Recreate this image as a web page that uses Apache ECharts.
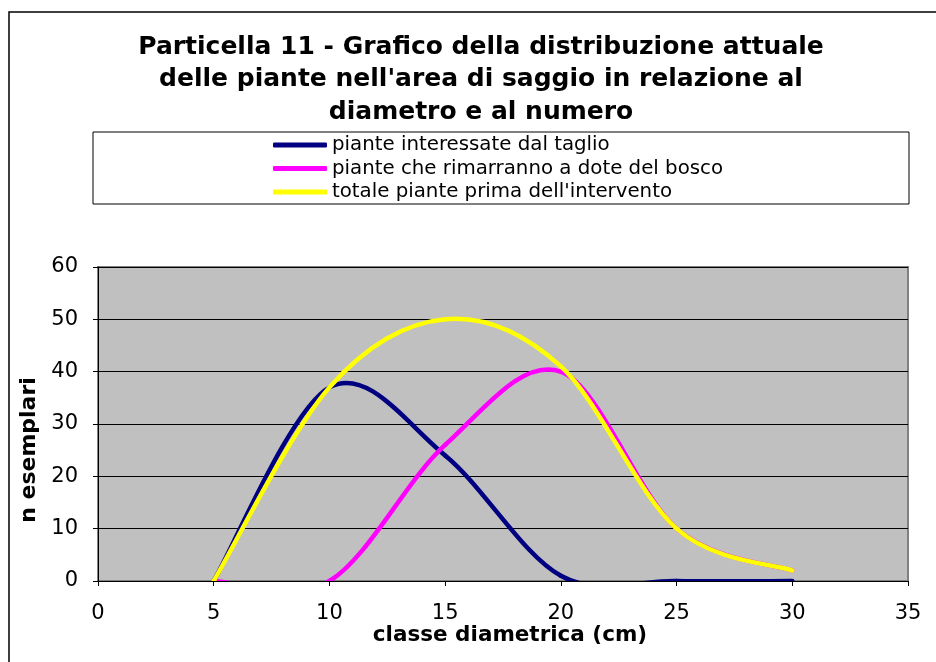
<!DOCTYPE html>
<html><head><meta charset="utf-8">
<script src="https://cdn.jsdelivr.net/npm/echarts@6/dist/echarts.min.js"></script>
<style>html,body{margin:0;padding:0;background:#fff}#c{width:936px;height:662px}</style>
</head><body><div id="c"></div>
<script>
const diameters = [5, 10, 15, 20, 25, 30];
const tagliate = [0, 37, 24, 1, 0, 0];
const rimarranno = [0, 0, 26, 40, 10, 2];
const totale = [0, 37, 50, 41, 10, 2];
const seriesNames = ['piante interessate dal taglio', 'piante che rimarranno a dote del bosco', 'totale piante prima dell\'intervento'];
const colors = ['#000080', '#FF00FF', '#FFFF00'];
const titleText = 'Particella 11 - Grafico della distribuzione attuale\ndelle piante nell\'area di saggio in relazione al\ndiametro e al numero';

const F = '"DejaVu Sans", Verdana, sans-serif';

// Excel-style smoothed line: each data item draws the Bezier segment to the next point,
// with control points derived from neighbouring data points mapped through api.coord.
function curveSeries(name, vals, color) {
  const n = diameters.length;
  return {
    name: name, type: 'custom', clip: true,
    data: diameters.map((d, i) => [d, vals[i]]),
    encode: { x: 0, y: 1 },
    itemStyle: { color: color },
    renderItem: function (params, api) {
      const i = params.dataIndex;
      if (i >= n - 1) return null;
      const P = (k) => api.coord([diameters[k], vals[k]]);
      const p0 = P(Math.max(i - 1, 0)), p1 = P(i), p2 = P(i + 1), p3 = P(Math.min(i + 2, n - 1));
      return {
        type: 'bezierCurve',
        shape: {
          x1: p1[0], y1: p1[1], x2: p2[0], y2: p2[1],
          cpx1: p1[0] + (p2[0] - p0[0]) / 6, cpy1: p1[1] + (p2[1] - p0[1]) / 6,
          cpx2: p2[0] - (p3[0] - p1[0]) / 6, cpy2: p2[1] - (p3[1] - p1[1]) / 6
        },
        style: { stroke: color, lineWidth: 4.5, fill: null, lineCap: 'round' }
      };
    }
  };
}

const chart = echarts.init(document.getElementById('c'));
chart.setOption({
  animation: false,
  backgroundColor: '#fff',
  textStyle: { fontFamily: F },
  title: {
    text: titleText, left: 476, top: 26, textAlign: 'center',
    textStyle: { fontFamily: F, fontSize: 25, fontWeight: 'bold', color: '#000', lineHeight: 32.5 }
  },
  graphic: [
    { type: 'rect', shape: { x: 9, y: 12, width: 960, height: 700 }, style: { fill: 'none', stroke: '#000', lineWidth: 1.5 }, z: -1 },
    { type: 'rect', shape: { x: 93, y: 132, width: 816, height: 72 }, style: { fill: '#fff', stroke: '#000', lineWidth: 1 }, z: 0 }
  ],
  legend: {
    orient: 'vertical', left: 273, top: 135, itemGap: 3.5,
    itemWidth: 54, itemHeight: 5, icon: 'roundRect', padding: 0, z: 5,
    textStyle: { fontFamily: F, fontSize: 19.8, color: '#000', lineHeight: 20 },
    data: seriesNames.map((n, i) => ({ name: n, icon: 'roundRect', itemStyle: { color: colors[i] } }))
  },
  grid: { left: 98, right: 28, top: 267, bottom: 81, show: true, backgroundColor: '#C0C0C0', borderColor: '#808080', borderWidth: 2 },
  xAxis: {
    type: 'value', min: 0, max: 35, interval: 5,
    name: 'classe diametrica (cm)', nameLocation: 'middle', nameGap: 41,
    nameTextStyle: { fontFamily: F, fontSize: 21.5, fontWeight: 'bold', color: '#000', padding: [0, 0, 0, 14] },
    axisLine: { onZero: false, lineStyle: { color: '#000', width: 1 } },
    axisTick: { show: true, length: 5, lineStyle: { color: '#000' } },
    axisLabel: { fontFamily: F, fontSize: 21, color: '#000', margin: 22 },
    splitLine: { show: false }
  },
  yAxis: {
    type: 'value', min: 0, max: 60, interval: 10,
    name: 'n esemplari', nameLocation: 'middle', nameGap: 46,
    nameTextStyle: { fontFamily: F, fontSize: 22, fontWeight: 'bold', color: '#000', padding: [0, 52, 0, 0] },
    axisLine: { show: true, lineStyle: { color: '#000', width: 1 } },
    axisTick: { show: true, length: 5, lineStyle: { color: '#000' } },
    axisLabel: { fontFamily: F, fontSize: 21, color: '#000', margin: 20 },
    splitLine: { show: true, lineStyle: { color: '#000', width: 1 } }
  },
  series: [
    curveSeries(seriesNames[0], tagliate, colors[0]),
    curveSeries(seriesNames[1], rimarranno, colors[1]),
    curveSeries(seriesNames[2], totale, colors[2])
  ]
});
</script></body></html>
